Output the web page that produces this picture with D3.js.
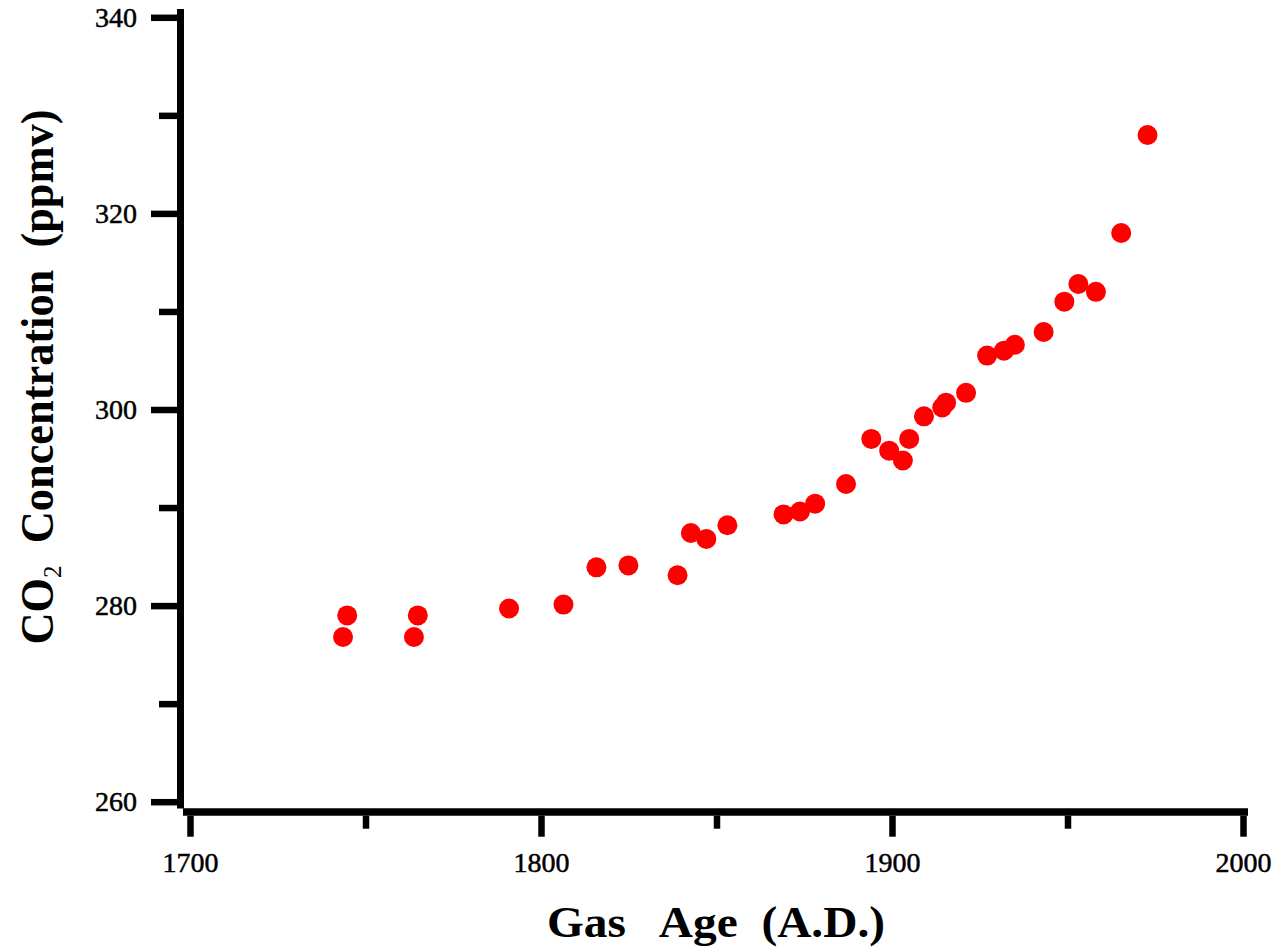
<!DOCTYPE html>
<html>
<head>
<meta charset="utf-8">
<script src="https://cdn.jsdelivr.net/npm/d3@7"></script>
<style>
body{margin:0;background:#fff;}
svg text{white-space:pre;}
</style>
</head>
<body>
<svg id="chart" width="1274" height="947"></svg>
<script>
// ice core CO2 readings (year A.D., ppmv)
var years=[1743.6,1744.8,1763.8,1764.9,1790.9,1806.4,1815.8,1824.9,1838.9,1842.7,
           1847.1,1853.1,1869.1,1873.8,1878.1,1886.9,1894.1,1899.2,1903.1,1904.9,
           1909.1,1914.3,1915.4,1921.1,1927.1,1931.9,1935.0,1943.2,1949.1,1953.1,
           1958.1,1965.3,1972.8];
var co2=[276.8,279.0,276.8,279.0,279.7,280.1,283.9,284.1,283.1,287.4,
         286.8,288.2,289.3,289.6,290.4,292.4,297.0,295.8,294.8,297.0,
         299.3,300.2,300.7,301.7,305.5,306.0,306.6,307.9,311.0,312.8,
         312.0,318.0,328.0];
var yMajor=[260,280,300,320,340];
var yMinor=[270,290,310,330];
var xMajor=[1700,1800,1900,2000];
var xMinor=[1750,1850,1950];

var svg=d3.select("#chart");
var x=d3.scaleLinear().domain([1700,2000]).range([190,1243]);
var y=d3.scaleLinear().domain([260,340]).range([801.7,17.3]);

var labelFont="'Liberation Serif','Times New Roman',serif";

//y轴
var yAxis=svg.append("g").attr("transform","translate(177,0)")
    .call(d3.axisLeft(y).tickValues(yMajor).tickSize(26).tickPadding(14).tickFormat(d3.format("d")));
var yAxisMinor=svg.append("g").attr("transform","translate(177,0)")
    .call(d3.axisLeft(y).tickValues(yMinor).tickSize(18).tickFormat(""));
//x轴
var xAxis=svg.append("g").attr("transform","translate(0,815.7)")
    .call(d3.axisBottom(x).tickValues(xMajor).tickSize(21).tickPadding(15).tickFormat(d3.format("d")));
var xAxisMinor=svg.append("g").attr("transform","translate(0,815.7)")
    .call(d3.axisBottom(x).tickValues(xMinor).tickSize(13).tickFormat(""));

svg.selectAll(".domain").remove();
svg.selectAll(".tick line").attr("stroke","#000").attr("stroke-width",6.5);
svg.selectAll(".tick text")
    .attr("font-family",labelFont)
    .attr("font-size",28)
    .attr("fill","#000")
    .attr("stroke","#000")
    .attr("stroke-width",0.5);

svg.append("line").attr("x1",180.5).attr("x2",180.5).attr("y1",9).attr("y2",808.5)
    .attr("stroke","#000").attr("stroke-width",7);
svg.append("line").attr("x1",183).attr("x2",1248).attr("y1",812).attr("y2",812)
    .attr("stroke","#000").attr("stroke-width",7.5);

//数据点
svg.append("g").selectAll("circle")
    .data(years)
    .enter().append("circle")
    .attr("cx",function(d){return x(d);})
    .attr("cy",function(d,i){return y(co2[i]);})
    .attr("r",10)
    .attr("fill","#ff0000");

//坐标轴标题
var xt=svg.append("text")
    .attr("font-family",labelFont)
    .attr("font-weight","bold")
    .attr("font-size",45)
    .attr("text-anchor","middle")
    .text("Gas   Age  (A.D.)");
var w=xt.node().getComputedTextLength();
xt.attr("transform","translate(716,937) scale("+(338/w)+",1)");

var yt=svg.append("text")
    .attr("font-family",labelFont)
    .attr("font-weight","bold")
    .attr("font-size",46)
    .attr("text-anchor","middle");
yt.append("tspan").text("CO");
yt.append("tspan").attr("font-size",26).attr("font-weight","normal").attr("dy",8).text("2");
yt.append("tspan").attr("dy",-8).text("  Concentration  (ppmv)");
var w2=yt.node().getComputedTextLength();
yt.attr("transform","translate(53,377) rotate(-90) scale("+(535/w2)+",1)");
</script>
</body>
</html>
